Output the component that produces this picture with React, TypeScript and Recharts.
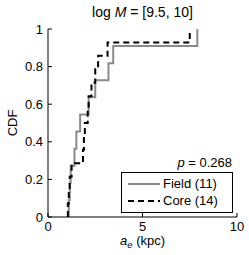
import React from 'react';
import { LineChart, Line, XAxis, YAxis, Legend, Customized } from 'recharts';

const fieldSizes = [1.1, 1.15, 1.2, 1.4, 1.5, 1.7, 2.15, 2.5, 3.2, 3.45, 7.9];
const coreSizes = [1.05, 1.1, 1.15, 1.25, 1.85, 1.9, 1.95, 2.1, 2.15, 2.3, 2.5, 2.65, 3.15, 7.5];
const seriesNames = ['Field (11)', 'Core (14)'];
const xTicks = [0, 5, 10];
const yTicks = [0, 0.2, 0.4, 0.6, 0.8, 1];
const massBin = ['9.5', '10'];
const pValue = '0.268';

const font = '"Liberation Sans", Arial, Helvetica, sans-serif';

// empirical CDF points for a stepAfter line
const toCdf = (sizes: number[]) => {
  const pts = [{ a: sizes[0], cdf: 0 }];
  sizes.forEach((a, i) => pts.push({ a, cdf: (i + 1) / sizes.length }));
  return pts;
};

const fieldCdf = toCdf(fieldSizes);
const coreCdf = toCdf(coreSizes);

const TICK = 4;

const LeftTick = ({ x, y, payload }: any) => (
  <g>
    <line x1={x} x2={x + TICK} y1={y} y2={y} stroke="#000" />
    <text x={x - 5} y={y} dy="0.36em" textAnchor="end" fontSize={13} fontFamily={font} fill="#000">
      {payload.value}
    </text>
  </g>
);

const BottomTick = ({ x, y, payload }: any) => (
  <g>
    <line x1={x} x2={x} y1={y} y2={y - TICK} stroke="#000" />
    <text x={x} y={y + 4} dy="0.75em" textAnchor="middle" fontSize={13} fontFamily={font} fill="#000">
      {payload.value}
    </text>
  </g>
);

const TopTick = ({ x, y }: any) => <line x1={x} x2={x} y1={y} y2={y + TICK} stroke="#000" />;
const RightTick = ({ x, y }: any) => <line x1={x} x2={x - TICK} y1={y} y2={y} stroke="#000" />;

const XLabel = ({ viewBox }: any) => (
  <text x={viewBox.x + viewBox.width / 2} y={245} textAnchor="middle" fontSize={13} fontFamily={font} fill="#000">
    <tspan fontStyle="italic">a</tspan>
    <tspan fontStyle="italic" fontSize={9.5} dy={3}>e</tspan>
    <tspan dy={-3}> (kpc)</tspan>
  </text>
);

const YLabel = ({ viewBox }: any) => {
  const cy = viewBox.y + viewBox.height / 2;
  return (
    <text x={12} y={cy} transform={`rotate(-90 12 ${cy})`} dy="0.36em" textAnchor="middle" fontSize={13} fontFamily={font} fill="#000">
      CDF
    </text>
  );
};

const Texts = () => (
  <g fontFamily={font} fill="#000">
    <text x={142.5} y={17} textAnchor="middle" fontSize={14}>
      log <tspan fontStyle="italic">M</tspan> = [{massBin[0]}, {massBin[1]}]
    </text>
    <text x={232} y={167} textAnchor="end" fontSize={13}>
      <tspan fontStyle="italic">p</tspan> = {pValue}
    </text>
  </g>
);

const LegendBox = ({ payload }: any) => {
  const items = [...payload].sort((a: any, b: any) => seriesNames.indexOf(a.value) - seriesNames.indexOf(b.value));
  return (
    <div style={{ border: '1px solid #000', background: '#fff', width: 110, height: 37, padding: '1px 0', boxSizing: 'content-box', fontFamily: font, fontSize: 13 }}>
      {items.map((p: any) => (
        <div key={p.value} style={{ display: 'flex', alignItems: 'center', height: 14, marginTop: 3 }}>
          <svg width={40} height={14}>
            <line x1={6} x2={38} y1={7} y2={7} stroke={p.color} strokeWidth={2} strokeDasharray={p.payload.strokeDasharray} />
          </svg>
          <span style={{ marginLeft: 1, lineHeight: '14px' }}>{p.value}</span>
        </div>
      ))}
    </div>
  );
};

export default function App() {
  return (
    <div style={{ position: 'fixed', left: 0, top: 0, background: '#fff' }}>
      <LineChart width={249} height={255} margin={{ top: 29, right: 12, bottom: 0, left: 0 }}>
        <XAxis
          dataKey="a"
          type="number"
          domain={[0, 10]}
          ticks={xTicks}
          interval={0}
          height={38}
          tickSize={0}
          tickMargin={0}
          tickLine={false}
          tick={BottomTick}
          stroke="#000"
          label={<XLabel />}
          allowDuplicatedCategory={false}
        />
        <XAxis xAxisId="top" orientation="top" type="number" domain={[0, 10]} ticks={xTicks} interval={0} height={0} tickSize={0} tickMargin={0} tickLine={false} tick={TopTick} stroke="#000" />
        <YAxis
          type="number"
          domain={[0, 1]}
          ticks={yTicks}
          interval={0}
          width={48}
          tickSize={0}
          tickMargin={0}
          tickLine={false}
          tick={LeftTick}
          stroke="#000"
          label={<YLabel />}
        />
        <YAxis yAxisId="right" orientation="right" type="number" domain={[0, 1]} ticks={yTicks} interval={0} width={0} tickSize={0} tickMargin={0} tickLine={false} tick={RightTick} stroke="#000" />
        <Line data={fieldCdf} dataKey="cdf" name={seriesNames[0]} type="stepAfter" stroke="#8a8a8a" strokeWidth={2} dot={false} isAnimationActive={false} />
        <Line data={coreCdf} dataKey="cdf" name={seriesNames[1]} type="stepAfter" stroke="#000" strokeWidth={2} strokeDasharray="6 4" dot={false} isAnimationActive={false} />
        <Legend layout="horizontal" verticalAlign="middle" align="center" wrapperStyle={{ left: 121, top: 172, width: 112 }} content={LegendBox} />
        <Customized component={Texts} />
      </LineChart>
    </div>
  );
}
